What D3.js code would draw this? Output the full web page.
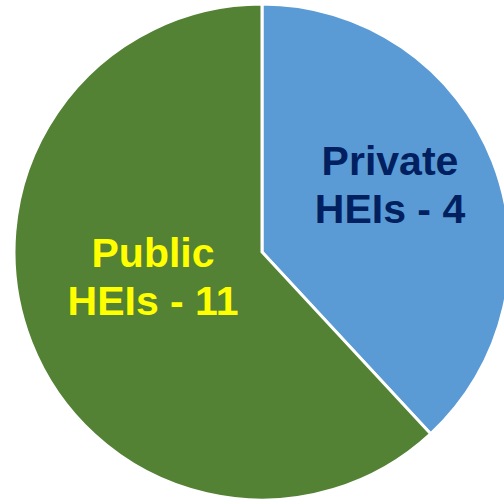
<!DOCTYPE html>
<html>
<head>
<meta charset="utf-8">
<script src="https://cdn.jsdelivr.net/npm/d3@7"></script>
<style>
  html, body { margin: 0; padding: 0; background: #fff; }
</style>
</head>
<body>
<div id="chart"></div>
<script>
const categories = ["Private", "Public"];
const counts = [4, 11];
// slice shares as drawn in the picture (%)
const shares = [38.1, 61.9];
const colors = ["#5B9BD5", "#548235"];
const textColors = ["#002060", "#FFFF00"];

const width = 504, height = 501;
const cx = 262, cy = 252, radius = 248;

const svg = d3.select("#chart").append("svg")
  .attr("width", width)
  .attr("height", height);

const g = svg.append("g").attr("transform", `translate(${cx},${cy})`);

const data = categories.map((c, i) => ({ name: c, count: counts[i], share: shares[i], color: colors[i], text: textColors[i] }));

const pie = d3.pie().sort(null).value(d => d.share);
const arc = d3.arc().innerRadius(0).outerRadius(radius);

const arcs = pie(data);

g.selectAll("path")
  .data(arcs)
  .enter()
  .append("path")
  .attr("d", arc)
  .attr("fill", d => d.data.color)
  .attr("stroke", "#fff")
  .attr("stroke-width", 3)
  .attr("stroke-linejoin", "miter");

// label positions (first baseline), relative to center
const labelPos = [[128, -77], [-109, 15]];

const labels = g.selectAll("text.lbl")
  .data(arcs)
  .enter()
  .append("text")
  .attr("class", "lbl")
  .attr("text-anchor", "middle")
  .style("font-family", "'Liberation Sans', Arial, sans-serif")
  .style("font-weight", "bold")
  .style("font-size", "41px")
  .attr("fill", d => d.data.text);

labels.append("tspan")
  .attr("x", (d, i) => labelPos[i][0])
  .attr("y", (d, i) => labelPos[i][1])
  .text(d => d.data.name);

labels.append("tspan")
  .attr("x", (d, i) => labelPos[i][0])
  .attr("y", (d, i) => labelPos[i][1] + 48)
  .text(d => `HEIs - ${d.data.count}`);
</script>
</body>
</html>
